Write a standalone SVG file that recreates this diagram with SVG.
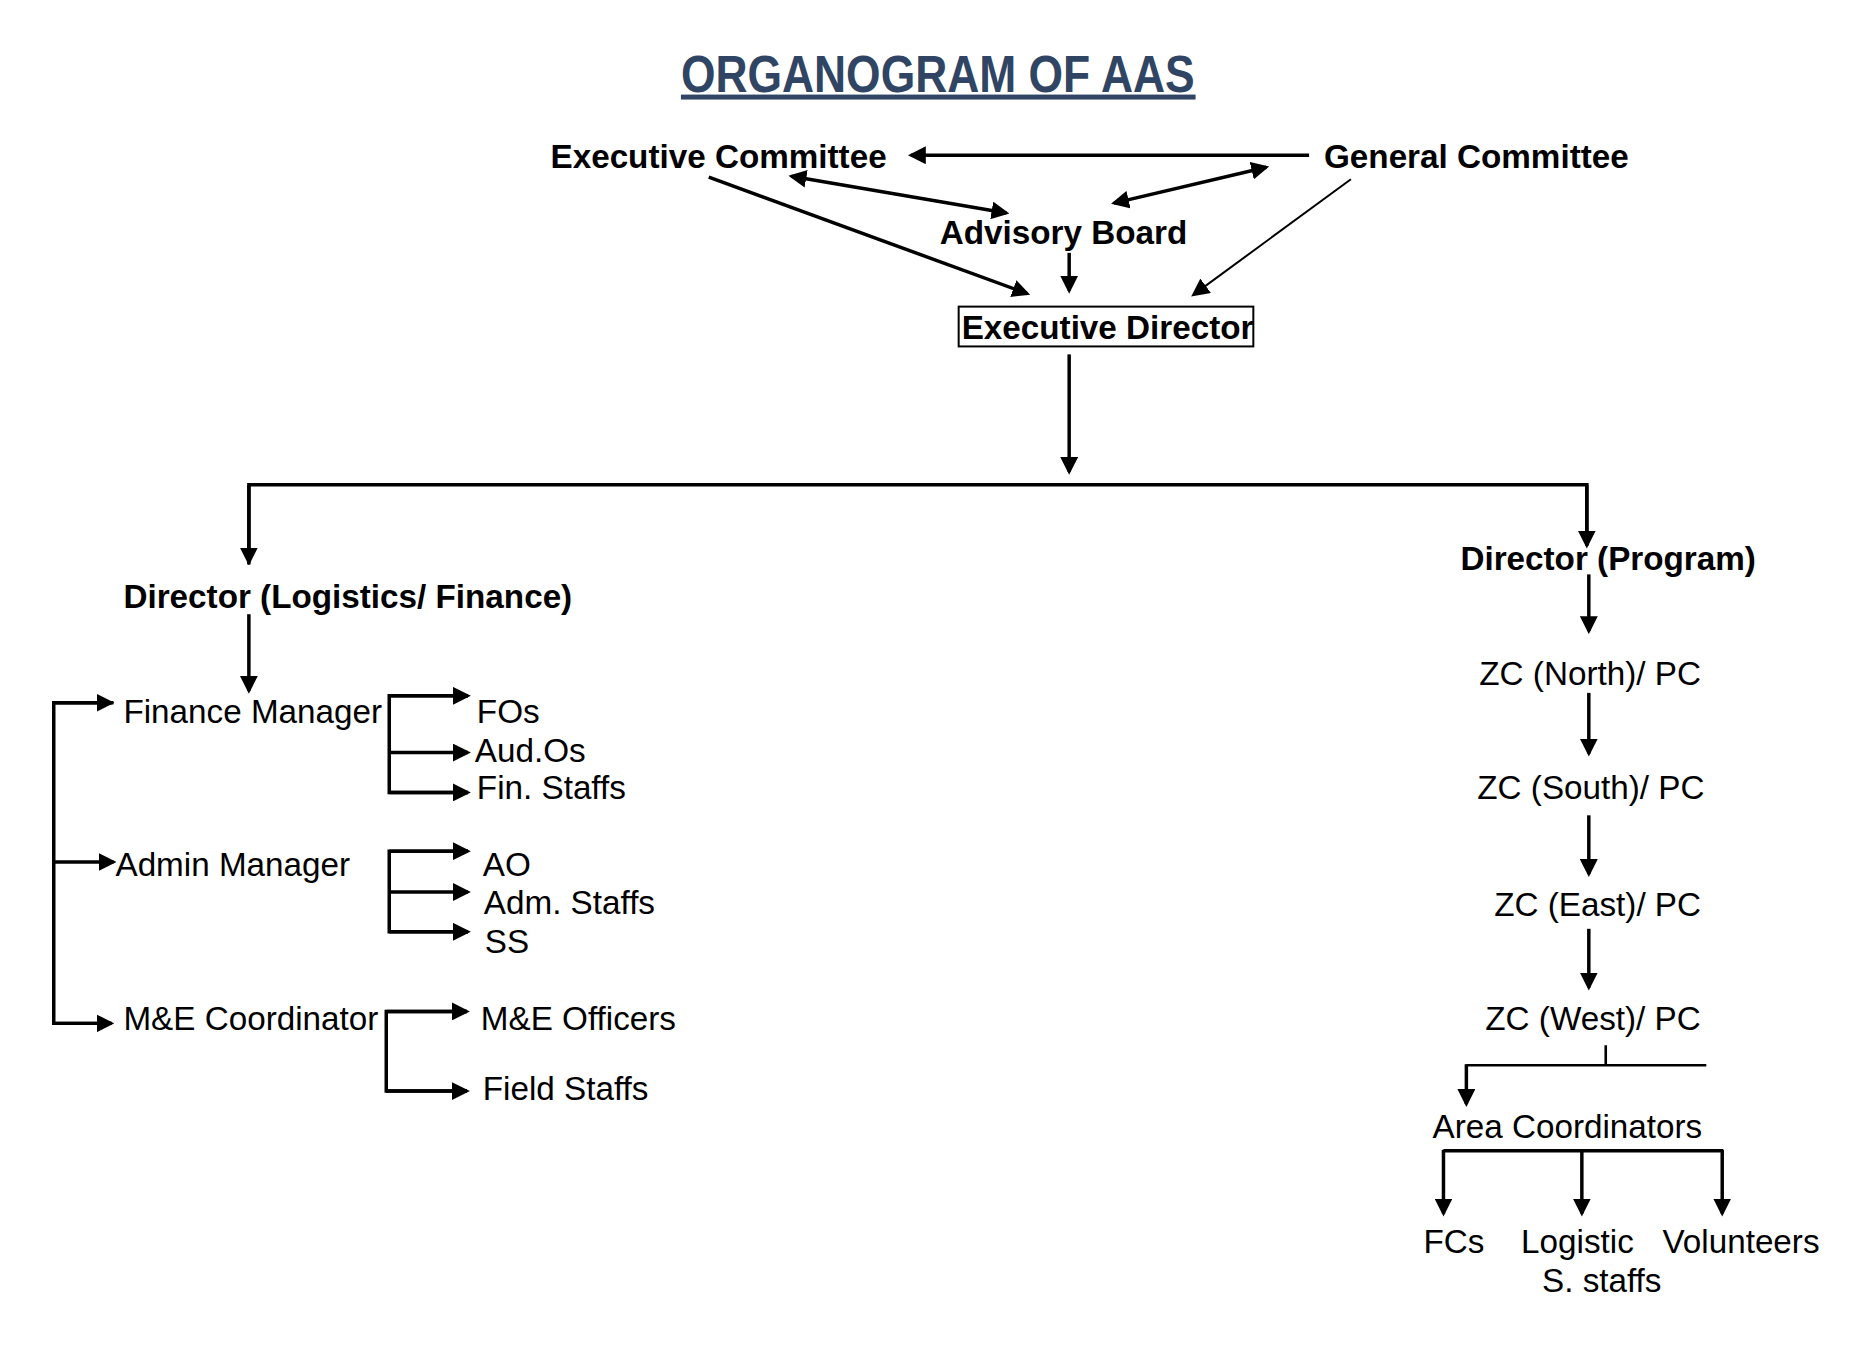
<svg xmlns="http://www.w3.org/2000/svg" width="1873" height="1351" viewBox="0 0 1873 1351">
<style>
text{font-family:"Liberation Sans",Arial,sans-serif;font-size:33.4px;fill:#000}
.b{font-weight:bold}
.t{font-weight:bold;font-size:52px;fill:#2F4563}
.c line,.c polyline{stroke:#000;stroke-width:3.5;fill:none}
.c .thin{stroke-width:2}
.c .mid{stroke-width:2.6}
.a{marker-end:url(#ah)}
.d{marker-start:url(#ah);marker-end:url(#ah)}
</style>
<defs>
<marker id="ah" markerUnits="userSpaceOnUse" viewBox="0 0 18 18" markerWidth="18" markerHeight="18" refX="15" refY="9" orient="auto-start-reverse">
<path d="M0,0 L18,9 L0,18 z" fill="#000"/>
</marker>
</defs>
<rect width="1873" height="1351" fill="#fff"/>
<g transform="scale(0.9955)">
<g id="title">
<text class="t" x="684" y="92" textLength="516" lengthAdjust="spacingAndGlyphs">ORGANOGRAM OF AAS</text>
<rect x="684" y="95" width="517" height="5" fill="#2F4563"/>
</g>
<g class="c" id="connectors">
<line class="a" x1="1315" y1="156" x2="915" y2="156"/>
<line class="d" x1="795" y1="177" x2="1011" y2="214"/>
<line class="d" x1="1119" y1="204" x2="1272" y2="168"/>
<line class="a" x1="712" y1="178" x2="1032" y2="295"/>
<line class="a" x1="1074" y1="254" x2="1074" y2="292"/>
<line class="a thin" x1="1357" y1="180" x2="1199" y2="296"/>
<line class="a" x1="1074" y1="356" x2="1074" y2="474"/>
<polyline points="250,567 250,487 1594,487 1594,548"/>
<line class="a" x1="250" y1="487" x2="250" y2="565"/>
<line class="a" x1="1594" y1="487" x2="1594" y2="548"/>
<line class="a" x1="250" y1="617" x2="250" y2="694"/>
<polyline points="114,706 54,706 54,1028 112,1028"/>
<line class="a" x1="54" y1="706" x2="112" y2="706"/>
<line class="a" x1="54" y1="866" x2="114" y2="866"/>
<line class="a" x1="54" y1="1028" x2="112" y2="1028"/>
<polyline points="470,699 391,699 391,796 470,796"/>
<line class="a" x1="391" y1="699" x2="470" y2="699"/>
<line class="a" x1="391" y1="756" x2="470" y2="756"/>
<line class="a" x1="391" y1="796" x2="470" y2="796"/>
<polyline points="470,855 391,855 391,936 470,936"/>
<line class="a" x1="391" y1="855" x2="470" y2="855"/>
<line class="a" x1="391" y1="896" x2="470" y2="896"/>
<line class="a" x1="391" y1="936" x2="470" y2="936"/>
<polyline points="469,1016 388,1016 388,1096 469,1096"/>
<line class="a" x1="388" y1="1016" x2="469" y2="1016"/>
<line class="a" x1="388" y1="1096" x2="469" y2="1096"/>
<line class="a" x1="1596" y1="577" x2="1596" y2="634"/>
<line class="a" x1="1596" y1="696" x2="1596" y2="757"/>
<line class="a" x1="1596" y1="819" x2="1596" y2="878"/>
<line class="a" x1="1596" y1="933" x2="1596" y2="992"/>
<line class="mid" x1="1613" y1="1050" x2="1613" y2="1070"/>
<line class="mid" x1="1473" y1="1070" x2="1714" y2="1070"/>
<line class="a" x1="1473" y1="1069" x2="1473" y2="1109"/>
<line x1="1450" y1="1156" x2="1731" y2="1156"/>
<line class="a" x1="1450" y1="1155" x2="1450" y2="1219"/>
<line class="a" x1="1589" y1="1155" x2="1589" y2="1219"/>
<line class="a" x1="1730" y1="1155" x2="1730" y2="1219"/>
</g>
<g id="executive-committee"><text class="b" x="553" y="169">Executive Committee</text></g>
<g id="general-committee"><text class="b" x="1330" y="169">General Committee</text></g>
<g id="advisory-board"><text class="b" x="944" y="245">Advisory Board</text></g>
<g id="executive-director">
<rect x="963" y="308" width="296" height="40" fill="none" stroke="#000" stroke-width="2"/>
<text class="b" x="966" y="341">Executive Director</text>
</g>
<g id="director-logistics-finance"><text class="b" x="124" y="611">Director (Logistics/ Finance)</text></g>
<g id="director-program"><text class="b" x="1467" y="573">Director (Program)</text></g>
<g id="finance-manager"><text x="124" y="726">Finance Manager</text></g>
<g id="fos"><text x="479" y="726">FOs</text></g>
<g id="aud-os"><text x="477" y="765">Aud.Os</text></g>
<g id="fin-staffs"><text x="479" y="803">Fin. Staffs</text></g>
<g id="admin-manager"><text x="116" y="880">Admin Manager</text></g>
<g id="ao"><text x="485" y="880">AO</text></g>
<g id="adm-staffs"><text x="486" y="918">Adm. Staffs</text></g>
<g id="ss"><text x="487" y="957">SS</text></g>
<g id="me-coordinator"><text x="124" y="1035">M&amp;E Coordinator</text></g>
<g id="me-officers"><text x="483" y="1035">M&amp;E Officers</text></g>
<g id="field-staffs"><text x="485" y="1105">Field Staffs</text></g>
<g id="zc-north"><text x="1486" y="688">ZC (North)/ PC</text></g>
<g id="zc-south"><text x="1484" y="803">ZC (South)/ PC</text></g>
<g id="zc-east"><text x="1501" y="920">ZC (East)/ PC</text></g>
<g id="zc-west"><text x="1492" y="1035">ZC (West)/ PC</text></g>
<g id="area-coordinators"><text x="1439" y="1143">Area Coordinators</text></g>
<g id="fcs"><text x="1430" y="1259">FCs</text></g>
<g id="logistic-s-staffs"><text x="1528" y="1259">Logistic</text><text x="1549" y="1298">S. staffs</text></g>
<g id="volunteers"><text x="1670" y="1259">Volunteers</text></g>
</g>
</svg>
